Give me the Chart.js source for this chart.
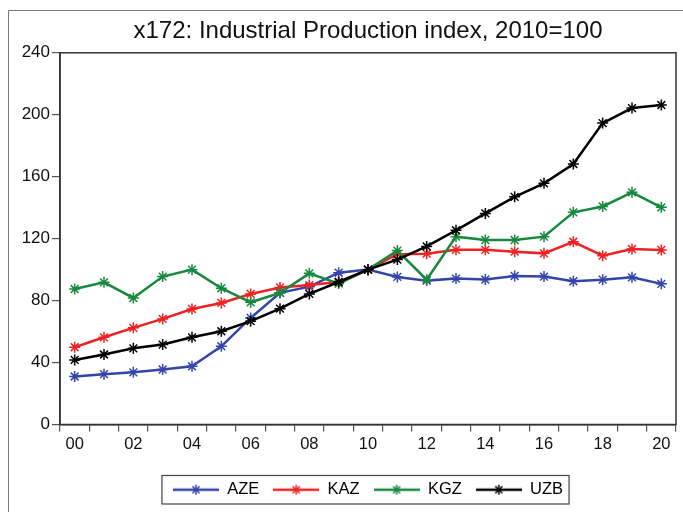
<!DOCTYPE html>
<html>
<head>
<meta charset="utf-8">
<script src="https://cdn.jsdelivr.net/npm/chart.js@4"></script>
<style>
    html, body { margin: 0; padding: 0; background: #fff; }
    #wrap { width: 683px; height: 512px; position: relative; }
</style>
</head>
<body>
<div id="wrap"><canvas id="ipChart" width="683" height="512"></canvas></div>
<script>
// --- Data ---
const years = ['00','01','02','03','04','05','06','07','08','09','10','11','12','13','14','15','16','17','18','19','20'];
const aze = [31, 32.5, 33.7, 35.5, 37.6, 50.5, 68.8, 85, 89, 98, 100, 95.3, 92.9, 94.2, 93.6, 95.9, 95.5, 92.5, 93.5, 95, 90.8];
const kaz = [49.9, 56.3, 62.4, 68.2, 74.6, 78.5, 84.3, 88.5, 90, 92, 100, 110, 110.3, 112.8, 112.8, 111.6, 110.5, 118, 109, 113.3, 112.7];
const kgz = [87.5, 91.8, 81.7, 95.5, 100, 88, 78.9, 85, 97.6, 91, 100, 112.3, 93.5, 121.3, 119.1, 119.1, 121.3, 137, 140.8, 149.9, 140.2];
const uzb = [41.7, 45.2, 49.2, 51.6, 56.3, 60.2, 66.7, 74.8, 84.3, 92, 100, 106.5, 115, 125.4, 136.3, 147, 155.7, 168.2, 194.6, 204.3, 206.3];
const yTicks = [0, 40, 80, 120, 160, 200, 240];

const seriesNames = ['AZE', 'KAZ', 'KGZ', 'UZB'];
const seriesColors = ['#3344aa', '#ee2222', '#17893f', '#000000'];

const FONT = '"Liberation Sans", Arial, sans-serif';

// little line+star picture used as legend symbol
function legendSymbol(color) {
    const c = document.createElement('canvas');
    c.width = 46; c.height = 14;
    const g = c.getContext('2d');
    g.strokeStyle = color;
    g.lineWidth = 2.5;
    g.beginPath(); g.moveTo(0, 7); g.lineTo(46, 7); g.stroke();
    g.lineWidth = 1.5;
    const r = 5;
    for (let a = 0; a < 4; a++) {
        const ang = a * Math.PI / 4;
        g.beginPath();
        g.moveTo(23 - Math.cos(ang) * r, 7 - Math.sin(ang) * r);
        g.lineTo(23 + Math.cos(ang) * r, 7 + Math.sin(ang) * r);
        g.stroke();
    }
    return c;
}
const legendImages = seriesColors.map(legendSymbol);

// outer frame, plot box and legend box
const framePlugin = {
    id: 'frames',
    beforeDraw(chart) {
        const ctx = chart.ctx;
        ctx.save();
        ctx.strokeStyle = '#7a7a7a';
        ctx.lineWidth = 1;
        ctx.beginPath();
        ctx.moveTo(8.5, 512); ctx.lineTo(8.5, 10.5); ctx.lineTo(683, 10.5);
        ctx.stroke();
        ctx.restore();
    },
    afterDraw(chart) {
        const ctx = chart.ctx;
        const a = chart.chartArea;
        ctx.save();
        ctx.strokeStyle = '#333';
        ctx.lineWidth = 1.5;
        ctx.strokeRect(a.left, a.top, a.right - a.left, a.bottom - a.top);
        const boxes = chart.legend.legendHitBoxes;
        if (boxes && boxes.length) {
            const l = Math.min(...boxes.map(b => b.left)) - 11;
            const r = Math.max(...boxes.map(b => b.left + b.width)) + 6;
            const t = Math.min(...boxes.map(b => b.top)) - 6;
            const btm = Math.max(...boxes.map(b => b.top + b.height)) + 6;
            ctx.strokeStyle = '#444';
            ctx.lineWidth = 1.2;
            ctx.strokeRect(l, t, r - l, btm - t);
        }
        ctx.restore();
    }
};

const seriesData = [aze, kaz, kgz, uzb];
const datasets = seriesNames.map((name, i) => ({
    label: name,
    data: seriesData[i],
    borderColor: seriesColors[i],
    backgroundColor: seriesColors[i],
    borderWidth: 2.5,
    pointStyle: 'star',
    pointRadius: 5.5,
    pointBorderWidth: 1.5,
    pointBorderColor: seriesColors[i],
    tension: 0,
    order: 4 - i
}));

new Chart(document.getElementById('ipChart'), {
    type: 'line',
    data: { labels: years, datasets: datasets },
    plugins: [framePlugin],
    options: {
        responsive: false,
        animation: false,
        layout: { padding: { left: 0, right: 5, top: 0, bottom: 4 } },
        plugins: {
            title: {
                display: true,
                fullSize: false,
                text: 'x172: Industrial Production index, 2010=100',
                color: '#111',
                font: { family: FONT, size: 24, weight: 'normal' },
                padding: { top: 17, bottom: 7 }
            },
            legend: {
                position: 'bottom',
                fullSize: false,
                labels: {
                    usePointStyle: true,
                    pointStyleWidth: 46,
                    padding: 14,
                    color: '#111',
                    font: { family: FONT, size: 16.5 },
                    generateLabels: () => seriesNames.map((name, i) => ({
                        text: name,
                        pointStyle: legendImages[i],
                        fillStyle: seriesColors[i],
                        strokeStyle: seriesColors[i],
                        lineWidth: 0,
                        datasetIndex: i,
                        hidden: false
                    }))
                }
            },
            tooltip: { enabled: false }
        },
        scales: {
            x: {
                type: 'category',
                offset: true,
                afterFit: s => { s.height = 43; },
                border: { display: true, color: '#333', width: 1.5 },
                grid: { offset: true, drawOnChartArea: false, drawTicks: true, tickLength: 7, color: '#555', lineWidth: 1.2 },
                ticks: {
                    autoSkip: false,
                    maxRotation: 0,
                    padding: 3,
                    color: '#111',
                    font: { family: FONT, size: 16.5 },
                    callback: (v, i) => (i % 2 === 0 ? years[i] : '')
                }
            },
            y: {
                min: yTicks[0],
                max: yTicks[yTicks.length - 1],
                afterFit: s => { s.width = 60; },
                afterBuildTicks: s => { s.ticks = yTicks.map(v => ({ value: v })); },
                border: { display: true, color: '#333', width: 1.5 },
                grid: { drawOnChartArea: false, drawTicks: true, tickLength: 8, color: '#555', lineWidth: 1.2 },
                ticks: {
                    padding: 2,
                    color: '#111',
                    font: { family: FONT, size: 17 }
                }
            }
        }
    }
});
</script>
</body>
</html>
